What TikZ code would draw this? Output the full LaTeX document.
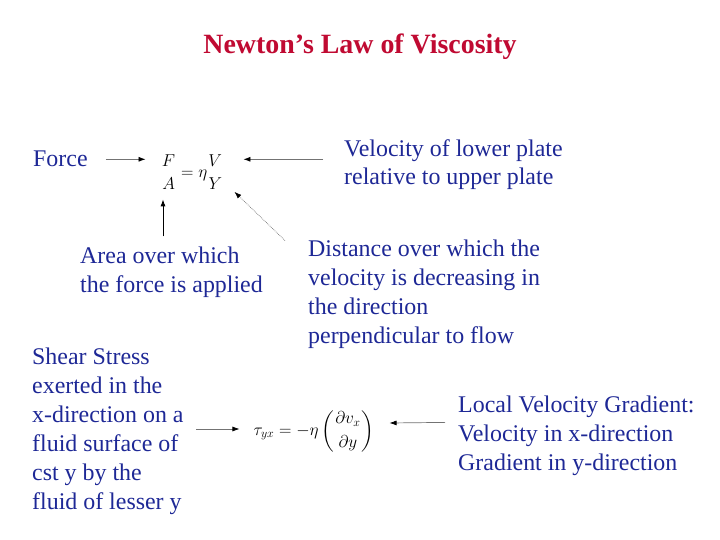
\documentclass[tikz,border=0pt]{standalone}
\usepackage{amsmath}
\usepackage{fontspec}
\setmainfont{Liberation Serif}
\usetikzlibrary{
  arrows.meta,  % Latex arrow tips
  positioning   % relative placement
}
\definecolor{titlered}{RGB}{192,10,50}
\definecolor{noteblue}{RGB}{30,40,150}
\tikzset{
  note/.style={
    anchor=base west,
    inner sep=0pt,
    align=left,
    text=noteblue,
    font=\fontsize{24}{29}\selectfont
  },
  formula/.style={
    inner sep=0pt,
    font=\fontsize{17}{20}\selectfont
  },
  link/.style={
    -{Latex[length=7bp,width=5bp,black]},
    draw=black!55,
    line width=0.7bp
  },
  dotted link/.style={
    link,
    densely dotted
  }
}

\begin{document}
\begin{tikzpicture}[x=1bp, y=-1bp]
    % page frame
    \useasboundingbox[fill=white] (0,0) rectangle (720,540);

    % title
    \node[font=\fontsize{28}{32}\selectfont\bfseries, text=titlered] (title) at (360,47)
      {Newton’s Law of Viscosity};

    % upper relation and its notes (base = last line)
    \node[formula] (ratio) at (192,172)
      {$\displaystyle\genfrac{}{}{0pt}{0}{F}{A}=\eta\genfrac{}{}{0pt}{0}{V}{Y}$};
    \node[note] (force) at (33,167) {Force};
    \node[note] (velocity) at (344,185) {Velocity of lower plate\\relative to upper plate};
    \node[note] (area) at (80,292) {Area over which\\the force is applied};
    \node[note] (distance) at (308,343)
      {Distance over which the\\velocity is decreasing in\\the direction\\perpendicular to flow};

    \draw[link] ([xshift=18bp]force.east) -- ([xshift=-15bp]force.east -| ratio.west);
    \draw[link] ([xshift=-21bp]force.east -| velocity.west) -- ([xshift=20bp]force.east -| ratio.east);
    \draw[link, line width=0.9bp, draw=black] ([xshift=83bp,yshift=10bp]area.north west)
      -- ([xshift=83bp,yshift=47bp]area.north west);
    \draw[dotted link] ([xshift=-23bp,yshift=-1bp]distance.north west) -- ([xshift=11bp,yshift=-2bp]ratio.south east);

    % lower relation and its notes
    \node[formula] (stress) at (314,431)
      {$\displaystyle\tau_{yx}=-\eta\left(\genfrac{}{}{0pt}{0}{\partial v_x}{\partial y}\right)$};
    \node[note] (shear) at (32,509)
      {Shear Stress\\exerted in the\\x-direction on a\\fluid surface of\\cst y by the\\fluid of lesser y};
    \node[note] (local) at (458,470)
      {Local Velocity Gradient:\\Velocity in x-direction\\Gradient in y-direction};

    \draw[link] ([xshift=-57bp,yshift=2bp]stress.west) -- ([xshift=-14bp,yshift=2bp]stress.west);
    \draw[link] ([xshift=-13bp,yshift=13bp]local.west) -- ([xshift=15bp,yshift=8bp]stress.east);

  \end{tikzpicture}
\end{document}
